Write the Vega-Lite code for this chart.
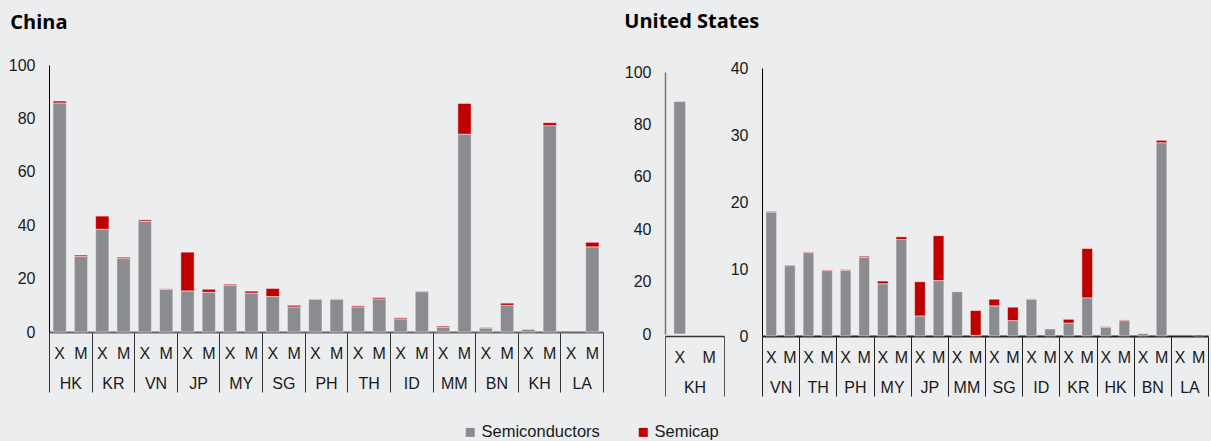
{
  "$schema": "https://vega.github.io/schema/vega-lite/v6.json",
  "background": "#ebedef",
  "padding": {"left": 8, "top": 12, "right": 2, "bottom": 2},
  "datasets": {
    "cn": [
      {"c": "HK", "k": "HK|X", "Semiconductors": 85.8, "Semicap": 0.7},
      {"c": "HK", "k": "HK|M", "Semiconductors": 28.3, "Semicap": 0.5},
      {"c": "KR", "k": "KR|X", "Semiconductors": 38.5, "Semicap": 4.9},
      {"c": "KR", "k": "KR|M", "Semiconductors": 27.5, "Semicap": 0.5},
      {"c": "VN", "k": "VN|X", "Semiconductors": 41.5, "Semicap": 0.5},
      {"c": "VN", "k": "VN|M", "Semiconductors": 16.0, "Semicap": 0.2},
      {"c": "JP", "k": "JP|X", "Semiconductors": 15.4, "Semicap": 14.5},
      {"c": "JP", "k": "JP|M", "Semiconductors": 14.9, "Semicap": 1.1},
      {"c": "MY", "k": "MY|X", "Semiconductors": 17.5, "Semicap": 0.4},
      {"c": "MY", "k": "MY|M", "Semiconductors": 14.6, "Semicap": 0.7},
      {"c": "SG", "k": "SG|X", "Semiconductors": 13.3, "Semicap": 3.0},
      {"c": "SG", "k": "SG|M", "Semiconductors": 9.4, "Semicap": 0.6},
      {"c": "PH", "k": "PH|X", "Semiconductors": 12.3, "Semicap": 0.1},
      {"c": "PH", "k": "PH|M", "Semiconductors": 12.3, "Semicap": 0.1},
      {"c": "TH", "k": "TH|X", "Semiconductors": 9.4, "Semicap": 0.4},
      {"c": "TH", "k": "TH|M", "Semiconductors": 12.4, "Semicap": 0.5},
      {"c": "ID", "k": "ID|X", "Semiconductors": 4.9, "Semicap": 0.4},
      {"c": "ID", "k": "ID|M", "Semiconductors": 15.1, "Semicap": 0.2},
      {"c": "MM", "k": "MM|X", "Semiconductors": 1.8, "Semicap": 0.4},
      {"c": "MM", "k": "MM|M", "Semiconductors": 74.1, "Semicap": 11.5},
      {"c": "BN", "k": "BN|X", "Semiconductors": 1.5, "Semicap": 0.2},
      {"c": "BN", "k": "BN|M", "Semiconductors": 10.0, "Semicap": 0.8},
      {"c": "KH", "k": "KH|X", "Semiconductors": 1.0, "Semicap": 0},
      {"c": "KH", "k": "KH|M", "Semiconductors": 77.3, "Semicap": 1.1},
      {"c": "LA", "k": "LA|X", "Semiconductors": 0, "Semicap": 0},
      {"c": "LA", "k": "LA|M", "Semiconductors": 31.9, "Semicap": 1.7}
    ],
    "uskh": [
      {"c": "KH", "k": "KH|X", "Semiconductors": 88.7, "Semicap": 0},
      {"c": "KH", "k": "KH|M", "Semiconductors": 0, "Semicap": 0}
    ],
    "us": [
      {"c": "VN", "k": "VN|X", "Semiconductors": 18.5, "Semicap": 0.1},
      {"c": "VN", "k": "VN|M", "Semiconductors": 10.5, "Semicap": 0.1},
      {"c": "TH", "k": "TH|X", "Semiconductors": 12.45, "Semicap": 0.1},
      {"c": "TH", "k": "TH|M", "Semiconductors": 9.76, "Semicap": 0.1},
      {"c": "PH", "k": "PH|X", "Semiconductors": 9.8, "Semicap": 0.1},
      {"c": "PH", "k": "PH|M", "Semiconductors": 11.76, "Semicap": 0.15},
      {"c": "MY", "k": "MY|X", "Semiconductors": 7.8, "Semicap": 0.4},
      {"c": "MY", "k": "MY|M", "Semiconductors": 14.4, "Semicap": 0.4},
      {"c": "JP", "k": "JP|X", "Semiconductors": 3.0, "Semicap": 5.1},
      {"c": "JP", "k": "JP|M", "Semiconductors": 8.27, "Semicap": 6.7},
      {"c": "MM", "k": "MM|X", "Semiconductors": 6.6, "Semicap": 0},
      {"c": "MM", "k": "MM|M", "Semiconductors": 0.1, "Semicap": 3.7},
      {"c": "SG", "k": "SG|X", "Semiconductors": 4.5, "Semicap": 1.0},
      {"c": "SG", "k": "SG|M", "Semiconductors": 2.3, "Semicap": 2.0},
      {"c": "ID", "k": "ID|X", "Semiconductors": 5.5, "Semicap": 0.05},
      {"c": "ID", "k": "ID|M", "Semiconductors": 1.05, "Semicap": 0},
      {"c": "KR", "k": "KR|X", "Semiconductors": 1.94, "Semicap": 0.55},
      {"c": "KR", "k": "KR|M", "Semiconductors": 5.7, "Semicap": 7.35},
      {"c": "HK", "k": "HK|X", "Semiconductors": 1.3, "Semicap": 0.1},
      {"c": "HK", "k": "HK|M", "Semiconductors": 2.3, "Semicap": 0.1},
      {"c": "BN", "k": "BN|X", "Semiconductors": 0.35, "Semicap": 0},
      {"c": "BN", "k": "BN|M", "Semiconductors": 28.85, "Semicap": 0.35},
      {"c": "LA", "k": "LA|X", "Semiconductors": 0, "Semicap": 0},
      {"c": "LA", "k": "LA|M", "Semiconductors": 0, "Semicap": 0.15}
    ]
  },
  "hconcat": [
    {
      "title": {"text": "China", "dx": 2},
      "width": 554,
      "height": 267,
      "data": {"name": "cn"},
      "transform": [{"fold": ["Semiconductors", "Semicap"], "as": ["type", "value"]}],
      "layer": [
        {
          "transform": [{"filter": "datum.value > 0"}],
          "mark": {"type": "bar", "stroke": "#ffffff", "strokeOpacity": 0.45, "strokeWidth": 1},
          "encoding": {
            "x": {"field": "k", "type": "nominal", "sort": null,
                  "scale": {"domain": ["HK|X","HK|M","KR|X","KR|M","VN|X","VN|M","JP|X","JP|M","MY|X","MY|M","SG|X","SG|M","PH|X","PH|M","TH|X","TH|M","ID|X","ID|M","MM|X","MM|M","BN|X","BN|M","KH|X","KH|M","LA|X","LA|M"], "paddingInner": 0.375, "paddingOuter": 0.1875},
                  "axis": {"orient": "bottom", "title": null, "domain": false, "ticks": false, "labelAngle": 0, "labelPadding": 13,
                           "labelExpr": "split(datum.label, '|')[1]"}},
            "y": {"field": "value", "type": "quantitative", "stack": "zero",
                  "scale": {"domain": [0, 100], "nice": false},
                  "axis": {"title": null, "values": [0, 20, 40, 60, 80, 100], "grid": false, "ticks": false, "domainColor": "#000000", "labelPadding": 14}},
            "color": {"field": "type", "type": "nominal",
                      "scale": {"domain": ["Semiconductors", "Semicap"], "range": ["#8b8c90", "#c00000"]},
                      "legend": {"title": null, "orient": "none", "legendX": 413, "legendY": 359, "direction": "horizontal",
                                 "symbolType": "square", "symbolSize": 81, "symbolStrokeWidth": 0, "labelFontSize": 16.5, "labelOffset": 3, "columnPadding": 35, "labelColor": "#1a1a1a"}},
            "order": {"field": "type", "sort": "descending"}
          }
        },
        {
          "mark": {"type": "bar", "opacity": 0},
          "encoding": {
            "x": {"field": "c", "type": "nominal", "sort": null,
                  "scale": {"paddingInner": 0, "paddingOuter": 0},
                  "axis": {"orient": "bottom", "title": null, "tickBand": "extent", "tickSize": 60, "tickColor": "#333333",
                           "domainColor": "#666666", "domainWidth": 2, "labelAngle": 0, "labelPadding": -17}},
            "y": {"datum": 0}
          }
        }
      ],
      "resolve": {"scale": {"x": "independent"}, "axis": {"x": "independent"}}
    },
    {
      "title": {"text": "United States", "dy": -4},
      "spacing": 5,
      "hconcat": [
        {
          "width": 59,
          "height": 271,
          "data": {"name": "uskh"},
          "transform": [{"fold": ["Semiconductors", "Semicap"], "as": ["type", "value"]}],
          "layer": [
            {
              "transform": [{"filter": "datum.value > 0"}],
              "mark": {"type": "bar", "stroke": "#ffffff", "strokeOpacity": 0.45, "strokeWidth": 1},
              "encoding": {
                "x": {"field": "k", "type": "nominal", "sort": null,
                      "scale": {"domain": ["KH|X", "KH|M"], "paddingInner": 0.6, "paddingOuter": 0.3},
                      "axis": {"orient": "bottom", "title": null, "domain": false, "ticks": false, "labelAngle": 0, "labelPadding": 13,
                               "labelExpr": "split(datum.label, '|')[1]"}},
                "y": {"field": "value", "type": "quantitative", "stack": "zero",
                      "scale": {"domain": [0, 100], "nice": false, "range": [269, 7]},
                      "axis": {"title": null, "values": [0, 20, 40, 60, 80, 100], "grid": false, "ticks": false, "domainColor": "#777777", "domainWidth": 1.5, "labelPadding": 14}},
                "color": {"field": "type", "type": "nominal",
                          "scale": {"domain": ["Semiconductors", "Semicap"], "range": ["#8b8c90", "#c00000"]}},
                "order": {"field": "type", "sort": "descending"}
              }
            },
            {
              "mark": {"type": "bar", "opacity": 0},
              "encoding": {
                "x": {"field": "c", "type": "nominal", "sort": null,
                      "scale": {"paddingInner": 0, "paddingOuter": 0},
                      "axis": {"orient": "bottom", "title": null, "tickBand": "extent", "tickSize": 60, "tickColor": "#555555",
                               "domainColor": "#333333", "domainWidth": 1.5, "labelAngle": 0, "labelPadding": -17}},
                "y": {"datum": 0}
              }
            }
          ],
          "resolve": {"scale": {"x": "independent"}, "axis": {"x": "independent"}}
        },
        {
          "width": 446,
          "height": 271,
          "data": {"name": "us"},
          "transform": [{"fold": ["Semiconductors", "Semicap"], "as": ["type", "value"]}],
          "layer": [
            {
              "transform": [{"filter": "datum.value > 0"}],
              "mark": {"type": "bar", "stroke": "#ffffff", "strokeOpacity": 0.45, "strokeWidth": 1},
              "encoding": {
                "x": {"field": "k", "type": "nominal", "sort": null,
                      "scale": {"domain": ["VN|X","VN|M","TH|X","TH|M","PH|X","PH|M","MY|X","MY|M","JP|X","JP|M","MM|X","MM|M","SG|X","SG|M","ID|X","ID|M","KR|X","KR|M","HK|X","HK|M","BN|X","BN|M","LA|X","LA|M"], "paddingInner": 0.425, "paddingOuter": 0.2125},
                      "axis": {"orient": "bottom", "title": null, "domain": false, "ticks": false, "labelAngle": 0, "labelPadding": 13,
                               "labelExpr": "split(datum.label, '|')[1]"}},
                "y": {"field": "value", "type": "quantitative", "stack": "zero",
                      "scale": {"domain": [0, 40], "nice": false, "range": [271, 3]},
                      "axis": {"title": null, "values": [0, 10, 20, 30, 40], "grid": false, "ticks": false, "domainColor": "#000000", "labelPadding": 14}},
                "color": {"field": "type", "type": "nominal",
                          "scale": {"domain": ["Semiconductors", "Semicap"], "range": ["#8b8c90", "#c00000"]}},
                "order": {"field": "type", "sort": "descending"}
              }
            },
            {
              "mark": {"type": "bar", "opacity": 0},
              "encoding": {
                "x": {"field": "c", "type": "nominal", "sort": null,
                      "scale": {"paddingInner": 0, "paddingOuter": 0},
                      "axis": {"orient": "bottom", "title": null, "tickBand": "extent", "tickSize": 60, "tickColor": "#222222",
                               "domainColor": "#222222", "domainWidth": 2, "labelAngle": 0, "labelPadding": -17}},
                "y": {"datum": 0}
              }
            }
          ],
          "resolve": {"scale": {"x": "independent"}, "axis": {"x": "independent"}}
        }
      ]
    }
  ],
  "spacing": 20,
  "config": {
    "font": "Liberation Sans",
    "view": {"stroke": null},
    "axis": {"labelFontSize": 16, "labelColor": "#1a1a1a", "labelFont": "Liberation Sans"},
    "title": {"font": "Open Sans", "fontSize": 20, "fontWeight": "bold", "anchor": "start", "frame": "bounds", "color": "#000000", "offset": 24}
  }
}
